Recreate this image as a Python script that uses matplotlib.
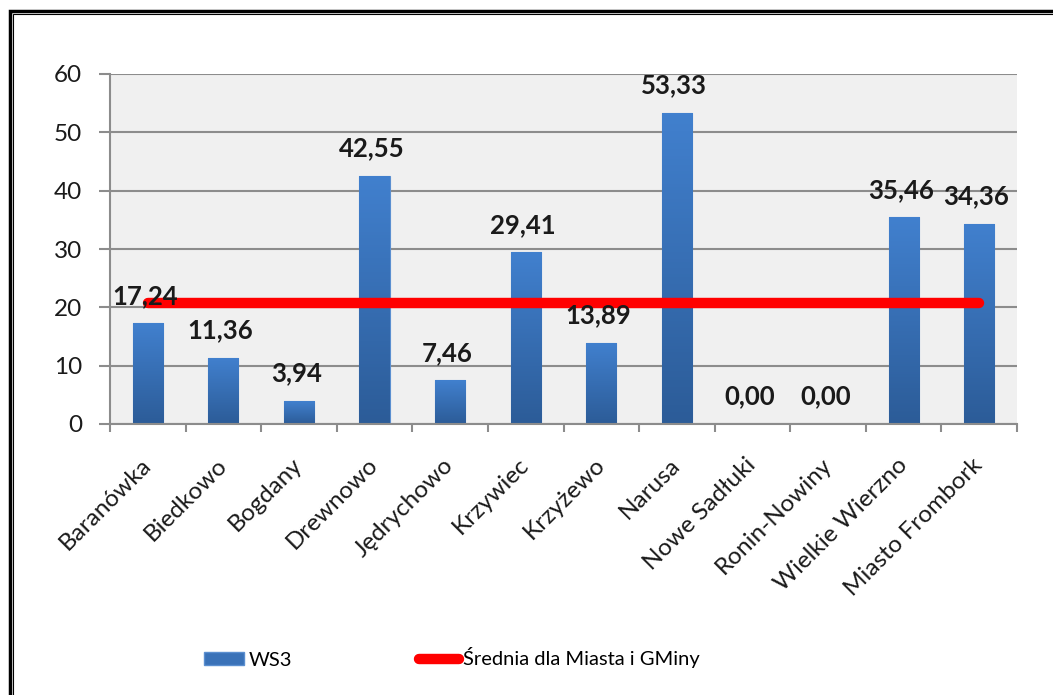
import numpy as np
import matplotlib.pyplot as plt
from matplotlib.lines import Line2D
from matplotlib.patches import Patch, Rectangle
from matplotlib.colors import LinearSegmentedColormap

plt.rcParams['font.family'] = ['Lato', 'DejaVu Sans']

# ───────── dane ─────────
categories = ['Baranówka', 'Biedkowo', 'Bogdany', 'Drewnowo', 'Jędrychowo', 'Krzywiec',
              'Krzyżewo', 'Narusa', 'Nowe Sadłuki', 'Ronin-Nowiny', 'Wielkie Wierzno',
              'Miasto Frombork']
ws3 = [17.24, 11.36, 3.94, 42.55, 7.46, 29.41, 13.89, 53.33, 0.00, 0.00, 35.46, 34.36]
srednia = [20.8] * len(categories)
yticks = [0, 10, 20, 30, 40, 50, 60]

fig = plt.figure(figsize=(10.53, 6.95), dpi=100)
ax = fig.add_axes([110 / 1053, 1 - 424 / 695, 907 / 1053, 350 / 695])
ax.set_facecolor('#F0F0F0')

x = np.arange(len(categories))
bars = ax.bar(x, ws3, width=0.4, color='#3A72B8', edgecolor='#5B8FD0', linewidth=0.8, zorder=2)

# gradient w słupkach (jasny u góry, ciemny na dole)
cmap = LinearSegmentedColormap.from_list('ws3', ['#2C5C98', '#4180CE'])
grad = np.linspace(0, 1, 100).reshape(-1, 1)
for b in bars:
    if b.get_height() <= 0:
        continue
    im = ax.imshow(grad, cmap=cmap, origin='lower', aspect='auto', zorder=2.5,
                   extent=[b.get_x(), b.get_x() + b.get_width(), 0, b.get_height()])
    im.set_clip_path(b)

ax.plot(x, srednia, color='#FF0000', linewidth=7.5, solid_capstyle='round', zorder=3)

for xi, v in zip(x, ws3):
    ax.annotate(f"{v:.2f}".replace('.', ','), (xi, v), xytext=(-2, 14), textcoords='offset points',
                ha='center', va='baseline', fontsize=18.5, fontweight='bold', color='#1A1A1A', zorder=4)

ax.set_xlim(-0.5, len(categories) - 0.5)
ax.set_ylim(0, 60)
ax.set_yticks(yticks)
ax.set_yticklabels([str(t) for t in yticks], fontsize=17.5, color='#1A1A1A')
ax.yaxis.grid(True, color='#8C8C8C', linewidth=1.5, zorder=0)
ax.set_axisbelow(True)

ax.set_xticks(x)
ax.set_xticklabels(categories, rotation=45, ha='right', va='center', rotation_mode='anchor',
                   fontsize=17.5, color='#1A1A1A')
ax.set_xticks(np.arange(-0.5, len(categories)), minor=True)
ax.tick_params(axis='x', which='major', length=0, pad=27)
ax.tick_params(axis='x', which='minor', length=6, width=1.5, color='#8C8C8C', direction='out')
ax.tick_params(axis='y', length=8, width=1.5, color='#8C8C8C', pad=12)

for s in ['top', 'right']:
    ax.spines[s].set_visible(False)
for s in ['left', 'bottom']:
    ax.spines[s].set_color('#8C8C8C')
    ax.spines[s].set_linewidth(1.5)

# legenda
handles = [Patch(facecolor='#3A72B8', edgecolor='#5B8FD0'),
           Line2D([0], [0], color='#FF0000', linewidth=7.5, solid_capstyle='round')]
fig.legend(handles, ['WS3', 'Średnia dla Miasta i GMiny'], loc='center left',
           bbox_to_anchor=(204 / 1053, 1 - 658 / 695), ncol=2, frameon=False,
           fontsize=14.5, handlelength=2.0, handleheight=0.6, handletextpad=0.2,
           columnspacing=6.3, borderpad=0, borderaxespad=0)

# ramka
fig.add_artist(Rectangle((9.5 / 1053, -0.1), 1.2, 1 - 11 / 695 + 0.1, transform=fig.transFigure,
                         fill=False, edgecolor='black', linewidth=2.5))
fig.add_artist(Rectangle((13 / 1053, -0.1), 1.2, 1 - 14 / 695 + 0.1, transform=fig.transFigure,
                         fill=False, edgecolor='black', linewidth=0.8))

fig.savefig('out.png', dpi=100)
